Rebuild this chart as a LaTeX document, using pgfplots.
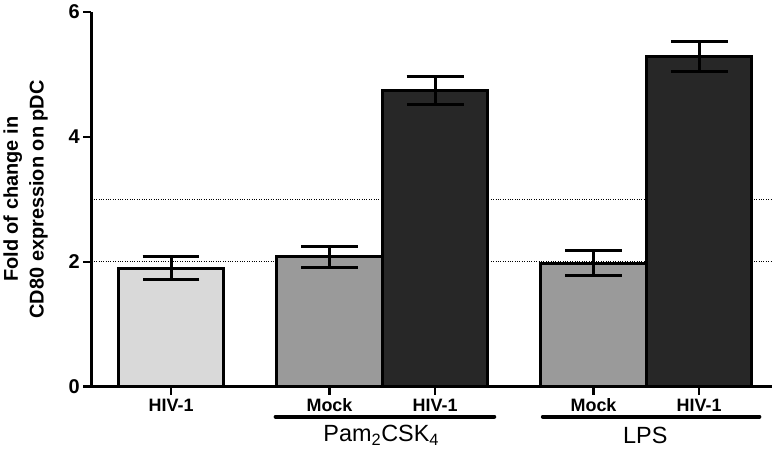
\documentclass[border=0pt]{standalone}
\usepackage{fontspec}
\setmainfont{Liberation Sans}
\usepackage{pgfplots}
\pgfplotsset{compat=1.18}
\definecolor{lightbar}{HTML}{D9D9D9}
\definecolor{midbar}{HTML}{9A9A9A}
\definecolor{darkbar}{HTML}{272727}
\pgfplotsset{errstyle/.style={error bars/.cd, y dir=both, y explicit,
  error bar style={line width=3pt, black},
  error mark options={rotate=90, mark size=28.5pt, line width=3pt, black}}}
\begin{document}
\begin{tikzpicture}
\path (-89pt,-66pt) rectangle (694pt,388pt);
\begin{axis}[
  scale only axis, width=683pt, height=376pt,
  xmin=-0.755, xmax=5.69, ymin=0, ymax=6,
  axis x line*=bottom, axis y line*=left,
  axis line style={line width=2.5pt},
  clip=false,
  xtick={0,1.5,2.5,4,5},
  xticklabels={HIV-1,Mock,HIV-1,Mock,HIV-1},
  ytick={0,2,4,6},
  tick align=outside,
  major tick length=8pt,
  tick style={line width=2.5pt, black},
  /pgf/number format/assume math mode=true,
  yticklabel style={font=\fontsize{20}{20}\selectfont\bfseries},
  xticklabel style={font=\fontsize{18}{18}\selectfont\bfseries, text height=13pt, text depth=0pt},
  extra y ticks={2,3}, extra y tick labels={},
  extra y tick style={grid=major, major tick length=0pt},
  major grid style={dotted, line width=1pt, black},
  ylabel={Fold of change in\\CD80 expression on pDC},
  ylabel style={align=center, font=\fontsize{20}{26}\selectfont\bfseries,
    at={(axis description cs:-0.0966,0.5)}, anchor=center},
]
\addplot[ybar, bar width=1, fill=lightbar, draw=black, line width=3pt, errstyle]
  coordinates {(0,1.90) +- (0,0.19)};
\addplot[ybar, bar width=1, fill=midbar, draw=black, line width=3pt, errstyle]
  coordinates {(1.5,2.08) +- (0,0.17) (4,1.98) +- (0,0.20)};
\addplot[ybar, bar width=1, fill=darkbar, draw=black, line width=3pt, errstyle]
  coordinates {(2.5,4.74) +- (0,0.22) (5,5.28) +- (0,0.24)};
\draw[line width=4pt, line cap=round] (axis cs:0.99,-0.48) -- (axis cs:3.06,-0.48);
\draw[line width=4pt, line cap=round] (axis cs:3.52,-0.48) -- (axis cs:5.57,-0.48);
\node[font=\fontsize{23.5}{23.5}\selectfont] at (axis cs:1.99,-0.78) {Pam\textsubscript{2}CSK\textsubscript{4}};
\node[font=\fontsize{23.5}{23.5}\selectfont] at (axis cs:4.49,-0.78) {LPS};
\end{axis}
\end{tikzpicture}
\end{document}
